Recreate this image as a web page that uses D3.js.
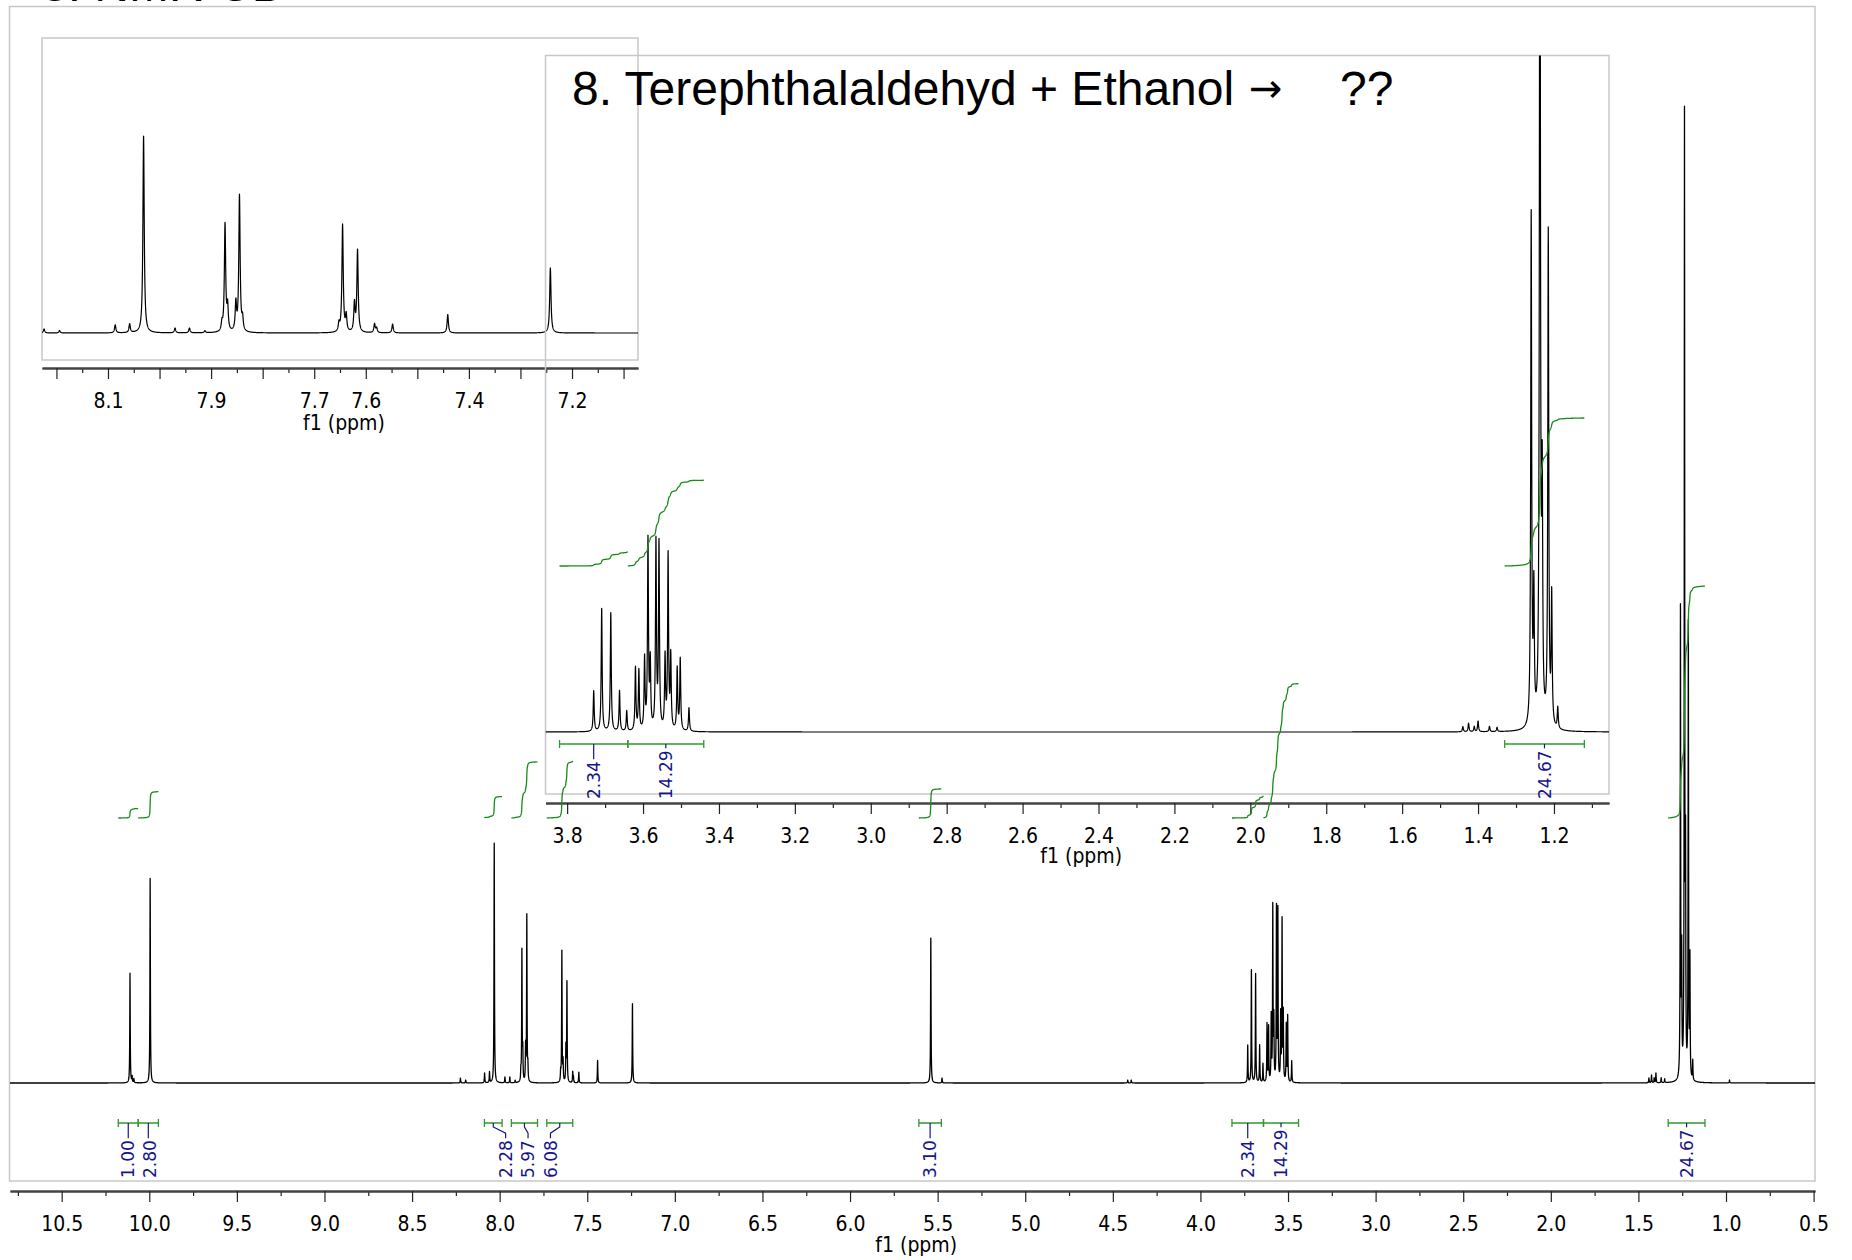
<!DOCTYPE html>
<html>
<head>
<meta charset="utf-8">
<script src="https://cdn.jsdelivr.net/npm/d3@7"></script>
<style>
  body { margin: 0; background: #fff; }
  svg { display: block; }
  .axis text { font-family: "DejaVu Sans Condensed", "DejaVu Sans", sans-serif; font-stretch: condensed; font-size: 21px; fill: #000; }
  .axis .domain { stroke: #444; stroke-width: 2.2px; }
  .axis line { stroke: #222; stroke-width: 1.2px; }
  .xlabel { font-family: "DejaVu Sans Condensed", "DejaVu Sans", sans-serif; font-stretch: condensed; font-size: 21px; }
  .intlabel { font-family: "DejaVu Sans", sans-serif; font-size: 17px; fill: #14148c; }
</style>
</head>
<body>
<div id="chart"></div>
<script>
// peak list: shift (ppm) and height (% of tallest line)
const peakPpm = [10.110, 10.098, 10.088, 9.995, 8.224, 8.194, 8.086, 8.058, 8.031, 7.970, 7.942, 7.912,
  7.879, 7.873, 7.868, 7.852, 7.845, 7.839, 7.652, 7.645, 7.638, 7.622, 7.616, 7.583, 7.579, 7.548,
  7.441, 7.242, 5.539, 5.475, 4.415, 4.395,
  3.730, 3.709, 3.685, 3.662, 3.643, 3.620, 3.611, 3.596, 3.587, 3.581, 3.566, 3.558, 3.542, 3.534,
  3.527, 3.510, 3.502, 3.479,
  1.440, 1.425, 1.410, 1.400, 1.370, 1.350, 1.260, 1.253, 1.237, 1.231, 1.215, 1.206, 1.190, 0.980];
const peakHeight = [11.2, 0.6, 0.4, 20.9, 0.5, 0.3, 1.0, 1.1, 24.5, 0.6, 0.6, 0.25,
  1.0, 13.4, 3.0, 3.5, 17.0, 1.5, 1.0, 13.4, 2.0, 3.5, 10.2, 1.1, 0.6, 1.1,
  2.3, 8.1, 14.8, 0.5, 0.3, 0.3,
  3.8, 11.5, 11.1, 3.8, 1.9, 5.9, 5.6, 6.6, 17.7, 6.1, 17.5, 17.3, 6.7, 16.3,
  6.8, 5.8, 6.7, 2.2,
  0.5, 0.8, 0.5, 1.0, 0.5, 0.4, 47.9, 12.0, 98, 21.0, 46.3, 12.0, 2.0, 0.3];

// integration regions
const intLabels = ["1.00", "2.80", "2.28", "5.97", "6.08", "3.10", "2.34", "14.29", "24.67"];
const intValues = [1.00, 2.80, 2.28, 5.97, 6.08, 3.10, 2.34, 14.29, 24.67];
const intFrom = [10.177, 10.063, 8.087, 7.933, 7.731, 5.607, 3.82, 3.64, 1.33];
const intTo = [10.063, 9.948, 7.986, 7.784, 7.583, 5.479, 3.64, 3.44, 1.12];
const intLabelPpm = [10.12, 9.995, 7.966, 7.838, 7.710, 5.543, 3.73, 3.54, 1.225];

// tick labels
const mainTicks = [10.5, 10.0, 9.5, 9.0, 8.5, 8.0, 7.5, 7.0, 6.5, 6.0, 5.5, 5.0, 4.5, 4.0, 3.5, 3.0, 2.5, 2.0, 1.5, 1.0, 0.5];
const aroTicks = [8.2, 8.1, 8.0, 7.9, 7.8, 7.7, 7.6, 7.5, 7.4, 7.3, 7.2, 7.1];
const aroLabels = ["8.1", "7.9", "7.7", "7.6", "7.4", "7.2"];
const aliTicks = [3.8, 3.6, 3.4, 3.2, 3.0, 2.8, 2.6, 2.4, 2.2, 2.0, 1.8, 1.6, 1.4, 1.2];

const width = 1852, height = 1260;
const svg = d3.select("#chart").append("svg")
    .attr("width", width).attr("height", height)
    .attr("viewBox", [0, 0, width, height]);

const hwhm = 0.0015;
function intensity(p) {
    let s = 0;
    for (let i = 0; i < peakPpm.length; i++) {
        const d = (p - peakPpm[i]) / hwhm;
        s += peakHeight[i] / (1 + d * d);
    }
    return s;
}

function sampleSpectrum(x) {
    const [a, b] = x.domain();
    const step = Math.abs(b - a) / (Math.abs(x.range()[1] - x.range()[0]) * 8);
    const ps = [];
    for (let p = a; p >= b; p -= step) ps.push(p);
    for (const p of peakPpm) if (p <= a && p >= b) ps.push(p);
    ps.sort((u, v) => v - u);
    return ps.map(p => [p, intensity(p)]);
}

let clipId = 0;
function panel(opts) {
    const { x, y, box, axisY, lw } = opts;
    const [d0, d1] = x.domain();
    const inside = v => v <= d0 && v >= d1;
    const g = svg.append("g");
    const id = "clip" + (clipId++);
    svg.append("clipPath").attr("id", id).append("rect")
        .attr("x", box[0]).attr("y", box[1])
        .attr("width", box[2] - box[0]).attr("height", box[3] - box[1]);

    g.append("rect")
        .attr("x", box[0]).attr("y", box[1])
        .attr("width", box[2] - box[0]).attr("height", box[3] - box[1])
        .attr("fill", "none").attr("stroke", "#c8c8c8").attr("stroke-width", 1.5);

    const line = d3.line().x(d => x(d[0])).y(d => y(d[1]));
    g.append("path")
        .datum(sampleSpectrum(x))
        .attr("clip-path", `url(#${id})`)
        .attr("d", line)
        .attr("fill", "none")
        .attr("stroke", "#000")
        .attr("stroke-width", lw)
        .attr("stroke-linejoin", "round");

    // minor ticks
    g.append("g").attr("class", "axis")
        .attr("transform", `translate(0,${axisY})`)
        .call(d3.axisBottom(x).tickValues(opts.minor.filter(inside)).tickSize(5).tickSizeOuter(0).tickFormat(""));
    // major ticks
    g.append("g").attr("class", "axis")
        .attr("transform", `translate(0,${axisY})`)
        .call(d3.axisBottom(x).tickValues(opts.major.filter(inside)).tickSize(11).tickSizeOuter(0).tickPadding(14)
            .tickFormat(opts.fmt));

    g.append("text").attr("class", "xlabel")
        .attr("x", (box[0] + box[2]) / 2 + 4)
        .attr("y", opts.f1Y)
        .attr("dy", "0.35em")
        .attr("text-anchor", "middle")
        .text("f1 (ppm)");
    return g;
}

function integrals(x, idx, o) {
    const g = svg.append("g");
    for (const i of idx) {
        const x0 = x(intFrom[i]), x1 = x(intTo[i]);
        // bracket
        g.append("path")
            .attr("d", `M${x0},${o.brY}H${x1}M${x0},${o.brY - 4}V${o.brY + 4}M${x1},${o.brY - 4}V${o.brY + 4}`)
            .attr("stroke", "#2e9a2e").attr("stroke-width", 1.3).attr("fill", "none");
        // label
        const lx = x(intLabelPpm[i]);
        const t = g.append("text").attr("class", "intlabel")
            .attr("transform", `translate(${lx},${o.labBottom}) rotate(-90)`)
            .attr("dy", "0.36em")
            .text(intLabels[i]);
        const len = t.node().getComputedTextLength();
        const cx = (x0 + x1) / 2;
        const top = o.labBottom - len - 2;
        g.append("path")
            .attr("d", Math.abs(cx - lx) < 3
                ? `M${cx},${o.brY}V${top}`
                : `M${cx},${o.brY}V${o.brY + 4}L${lx},${top - 5}V${top}`)
            .attr("stroke", "#14148c").attr("stroke-width", 1.2).attr("fill", "none");
        // integral curve
        const pts = [];
        let cum = 0;
        for (let p = intFrom[i]; p >= intTo[i]; p -= 0.0004) {
            cum += intensity(p);
            pts.push([p, cum]);
        }
        const total = cum;
        o.curves.append("path")
            .datum(pts)
            .attr("d", d3.line().x(d => x(d[0])).y(d => o.base - intValues[i] * o.k * d[1] / total))
            .attr("fill", "none").attr("stroke", "#1a8a1a").attr("stroke-width", 1.3);
    }
}

// ---- main spectrum
const xMain = d3.scaleLinear().domain([10.795, 0.492]).range([10, 1815]);
const yMain = d3.scaleLinear().domain([0, 100]).range([1083, 104]);
const minorMain = mainTicks.slice(0, -1).map(v => v - 0.25).concat([10.75]);
panel({ x: xMain, y: yMain, box: [9.5, 6.5, 1815, 1181], axisY: 1191, lw: 1.3,
    major: mainTicks, minor: minorMain, fmt: d3.format(".1f"), f1Y: 1245 });

// ---- aromatic inset
const xAro = d3.scaleLinear().domain([8.228, 7.072]).range([42, 638]);
const yAro = d3.scaleLinear().domain([0, 100]).range([333, 333 - 803]);
panel({ x: xAro, y: yAro, box: [42, 38, 638, 360], axisY: 368, lw: 1.2,
    major: aroTicks, minor: aroTicks.map(v => +(v - 0.05).toFixed(2)),
    fmt: d => aroLabels.includes(d.toFixed(1)) ? d.toFixed(1) : "", f1Y: 423 });

// ---- aliphatic inset
const xAli = d3.scaleLinear().domain([3.857, 1.055]).range([545.5, 1609]);
const yAli = d3.scaleLinear().domain([0, 100]).range([732, 732 - 1067]);
panel({ x: xAli, y: yAli, box: [545.5, 55.5, 1609, 794], axisY: 803, lw: 1.2,
    major: aliTicks, minor: aliTicks.map(v => +(v - 0.1).toFixed(2)), fmt: d3.format(".1f"), f1Y: 856 });

const curveLayer = svg.append("g");
integrals(xAli, [6, 7, 8], { brY: 744, labBottom: 799, base: 566, k: 6.0, curves: curveLayer });
integrals(xMain, [0, 1, 2, 3, 4, 5, 6, 7, 8], { brY: 1123, labBottom: 1178, base: 818, k: 9.4, curves: curveLayer });

// ---- titles
const title = svg.append("g")
    .attr("font-family", "'Liberation Sans', Arial, sans-serif")
    .attr("font-size", 48)
    .attr("fill", "#000");
title.append("text").attr("x", 41).attr("y", 1).text("8. NMR CD");
title.append("text").attr("x", 572).attr("y", 105).text("8. Terephthalaldehyd");
title.append("text").attr("x", 1030).attr("y", 105).text("+ Ethanol");
title.append("text").attr("x", 1249).attr("y", 102)
    .attr("font-family", "'DejaVu Sans', sans-serif").attr("font-size", 40).text("→");
title.append("text").attr("x", 1340).attr("y", 105).text("??");
</script>
</body>
</html>
